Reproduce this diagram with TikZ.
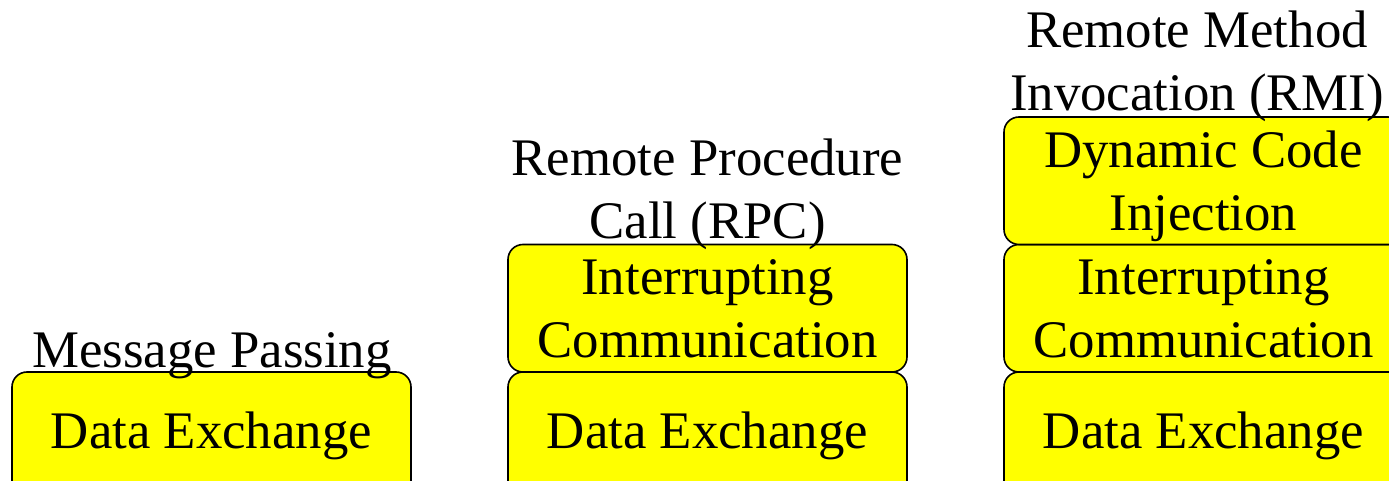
\documentclass[tikz,border=0pt]{standalone}
\usepackage{fontspec}
\setmainfont{Liberation Serif}
\definecolor{lyryellow}{RGB}{255, 255, 0}
\usepackage{tikz}
\usetikzlibrary{positioning}

\begin{document}
\begin{tikzpicture}[
  x=0.5pt, y=-0.5pt,
  lyr/.style={draw=black, line width=0.8pt, fill=lyryellow, rounded corners=7.5pt, minimum width=199.5pt, minimum height=63.75pt, align=center, inner sep=0pt, font=\fontsize{26.4}{31.5}\selectfont},
  lyrtwo/.style={lyr, text depth=0pt},
  ttl/.style={anchor=south, align=center, inner sep=0pt, font=\fontsize{26.4}{31.5}\selectfont}
]
  \clip (0, 0) rectangle (1389, 481);
  % message passing
  \node[lyr] (mpdata) at (211.5, 435.75) {Data Exchange};
  \node[ttl] (mptitle) at (212, 379) {Message Passing};
  % remote procedure call
  \node[lyr] (rpcdata) at (707.5, 435.75) {Data Exchange};
  \node[lyrtwo] (rpcint) at (707.5, 308.25) {Interrupting\\Communication};
  \node[ttl] (rpctitle) at (707.5, 250) {Remote Procedure\\Call (RPC)};
  % remote method invocation
  \node[lyr] (rmidata) at (1203.5, 435.75) {Data Exchange};
  \node[lyrtwo] (rmiint) at (1203.5, 308.25) {Interrupting\\Communication};
  \node[lyrtwo] (rmicode) at (1203.5, 180.75) {Dynamic Code\\Injection};
  \node[ttl] (rmititle) at (1197, 122) {Remote Method\\Invocation (RMI)};
\end{tikzpicture}
\end{document}
